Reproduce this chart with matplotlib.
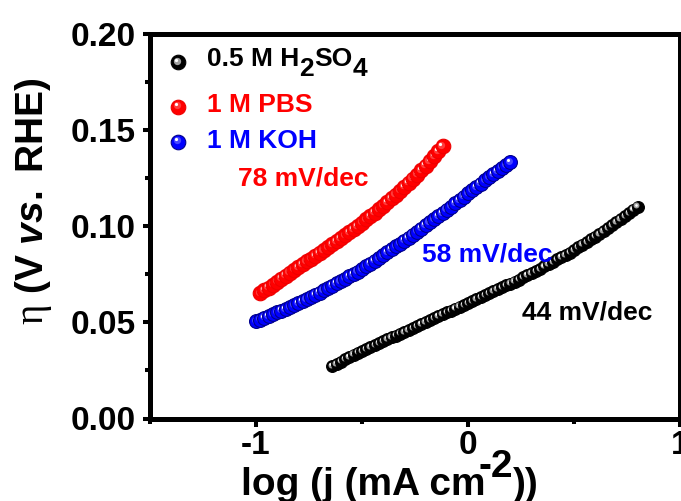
import matplotlib
matplotlib.use("Agg")
import matplotlib.pyplot as plt
from matplotlib.transforms import ScaledTranslation
from matplotlib.ticker import MultipleLocator, FormatStrFormatter

plt.rcParams['font.family'] = ['Liberation Sans', 'DejaVu Sans']
plt.rcParams['font.weight'] = 'bold'
plt.rcParams['axes.unicode_minus'] = False
plt.rcParams['mathtext.fontset'] = 'custom'
plt.rcParams['mathtext.rm'] = 'Liberation Sans:bold'
plt.rcParams['mathtext.it'] = 'Liberation Sans:italic:bold'
plt.rcParams['mathtext.bf'] = 'Liberation Sans:bold'
plt.rcParams['mathtext.sf'] = 'Liberation Serif:normal'

# ---- Tafel data: log(j) vs overpotential ----
h2so4_logj = [-0.64, -0.62, -0.60, -0.58, -0.56, -0.54, -0.52, -0.50, -0.48, -0.46,
              -0.44, -0.42, -0.40, -0.38, -0.36, -0.34, -0.32, -0.30, -0.28, -0.26,
              -0.24, -0.22, -0.20, -0.18, -0.16, -0.14, -0.12, -0.10, -0.08, -0.06,
              -0.04, -0.02, 0.00, 0.02, 0.04, 0.06, 0.08, 0.10, 0.12, 0.14,
              0.16, 0.18, 0.20, 0.22, 0.24, 0.26, 0.28, 0.30, 0.32, 0.34,
              0.36, 0.38, 0.40, 0.42, 0.44, 0.46, 0.48, 0.50, 0.52, 0.54,
              0.56, 0.58, 0.60, 0.62, 0.64, 0.66, 0.68, 0.70, 0.72, 0.74,
              0.76, 0.78, 0.80]
h2so4_eta = [0.0272, 0.0284, 0.0296, 0.0308, 0.0320, 0.0332, 0.0342, 0.0352, 0.0362, 0.0372,
             0.0382, 0.0392, 0.0402, 0.0411, 0.0421, 0.0431, 0.0441, 0.0451, 0.0461, 0.0471,
             0.0481, 0.0491, 0.0501, 0.0511, 0.0521, 0.0531, 0.0541, 0.0551, 0.0561, 0.0571,
             0.0581, 0.0591, 0.0601, 0.0611, 0.0621, 0.0631, 0.0641, 0.0651, 0.0661, 0.0671,
             0.0681, 0.0691, 0.0701, 0.0711, 0.0722, 0.0733, 0.0744, 0.0755, 0.0766, 0.0778,
             0.0790, 0.0802, 0.0814, 0.0826, 0.0838, 0.0850, 0.0862, 0.0875, 0.0889, 0.0903,
             0.0917, 0.0931, 0.0945, 0.0960, 0.0975, 0.0990, 0.1005, 0.1021, 0.1037, 0.1053,
             0.1069, 0.1085, 0.1101]

pbs_logj = [-0.98, -0.96, -0.94, -0.92, -0.90, -0.88, -0.86, -0.84, -0.82, -0.80,
            -0.78, -0.76, -0.74, -0.72, -0.70, -0.68, -0.66, -0.64, -0.62, -0.60,
            -0.58, -0.56, -0.54, -0.52, -0.50, -0.48, -0.46, -0.44, -0.42, -0.40,
            -0.38, -0.36, -0.34, -0.32, -0.30, -0.28, -0.26, -0.24, -0.22, -0.20,
            -0.18, -0.16, -0.14, -0.12]
pbs_eta = [0.0650, 0.0665, 0.0680, 0.0695, 0.0710, 0.0726, 0.0742, 0.0757, 0.0772, 0.0787,
           0.0801, 0.0816, 0.0830, 0.0845, 0.0860, 0.0875, 0.0890, 0.0905, 0.0920, 0.0936,
           0.0952, 0.0968, 0.0984, 0.1000, 0.1017, 0.1034, 0.1051, 0.1069, 0.1087, 0.1105,
           0.1124, 0.1143, 0.1163, 0.1183, 0.1203, 0.1224, 0.1245, 0.1267, 0.1290, 0.1313,
           0.1337, 0.1362, 0.1388, 0.1414]

koh_logj = [-1.00, -0.98, -0.96, -0.94, -0.92, -0.90, -0.88, -0.86, -0.84, -0.82,
            -0.80, -0.78, -0.76, -0.74, -0.72, -0.70, -0.68, -0.66, -0.64, -0.62,
            -0.60, -0.58, -0.56, -0.54, -0.52, -0.50, -0.48, -0.46, -0.44, -0.42,
            -0.40, -0.38, -0.36, -0.34, -0.32, -0.30, -0.28, -0.26, -0.24, -0.22,
            -0.20, -0.18, -0.16, -0.14, -0.12, -0.10, -0.08, -0.06, -0.04, -0.02,
            0.00, 0.02, 0.04, 0.06, 0.08, 0.10, 0.12, 0.14, 0.16, 0.18, 0.20]
koh_eta = [0.0505, 0.0514, 0.0523, 0.0532, 0.0541, 0.0551, 0.0560, 0.0569, 0.0578, 0.0588,
           0.0599, 0.0610, 0.0621, 0.0632, 0.0643, 0.0654, 0.0666, 0.0678, 0.0690, 0.0702,
           0.0714, 0.0726, 0.0738, 0.0750, 0.0763, 0.0777, 0.0791, 0.0805, 0.0819, 0.0834,
           0.0849, 0.0864, 0.0879, 0.0894, 0.0909, 0.0924, 0.0939, 0.0955, 0.0971, 0.0987,
           0.1003, 0.1019, 0.1035, 0.1051, 0.1067, 0.1084, 0.1101, 0.1118, 0.1135, 0.1152,
           0.1169, 0.1186, 0.1203, 0.1220, 0.1237, 0.1254, 0.1270, 0.1286, 0.1302, 0.1317,
           0.1332]

legend_labels = ['0.5 M H', '1 M PBS', '1 M KOH']
slope_labels = ['44 mV/dec', '78 mV/dec', '58 mV/dec']
x_ticks = [-1, 0, 1]
y_ticks = [0.00, 0.05, 0.10, 0.15, 0.20]

W, H = 681, 501
fig = plt.figure(figsize=(W / 100, H / 100), dpi=100)
ax = fig.add_axes([150 / W, 1 - 418.5 / H, 530 / W, 385 / H])
ax.set_xlim(-1.5, 1.0)
ax.set_ylim(0.0, 0.20)

for s in ax.spines.values():
    s.set_linewidth(3.6)
ax.set_xticks(x_ticks)
ax.set_yticks(y_ticks)
ax.xaxis.set_minor_locator(MultipleLocator(0.5))
ax.yaxis.set_minor_locator(MultipleLocator(0.025))
ax.xaxis.set_major_formatter(FormatStrFormatter('%d'))
ax.yaxis.set_major_formatter(FormatStrFormatter('%.2f'))
ax.tick_params(which='both', direction='out', top=False, right=False, width=2.9)
ax.tick_params(which='major', length=5.4, labelsize=24)
ax.tick_params(which='minor', length=3.5)
ax.tick_params(axis='y', which='major', pad=5.0)
ax.tick_params(axis='x', which='major', pad=3.0)


def spheres(xs, ys, face, edge, mid, ms, z0, trans=None):
    """Shaded ball markers drawn one by one so later balls overlap earlier ones."""
    base = trans if trans is not None else ax.transData
    d1 = 0.10 * ms / 72
    d2 = 0.16 * ms / 72
    t1 = base + ScaledTranslation(-d1, d1, fig.dpi_scale_trans)
    t2 = base + ScaledTranslation(-d2, d2, fig.dpi_scale_trans)
    for i, (x, y) in enumerate(zip(xs, ys)):
        z = z0 + i * 0.01
        ax.plot([x], [y], 'o', ms=ms, mfc=face, mec=edge, mew=0.8,
                transform=base, zorder=z, clip_on=False)
        ax.plot([x], [y], 'o', ms=ms * 0.5, mfc=mid, mec='none',
                transform=t1, zorder=z + 0.003, clip_on=False)
        ax.plot([x], [y], 'o', ms=ms * 0.22, mfc='white', mec='none',
                transform=t2, zorder=z + 0.006, clip_on=False)


BLACK = ('#000000', '#000000', '#a0a0a0')
RED = ('#ff0000', '#ee0000', '#ff3c3c')
BLUE = ('#0000ff', '#00008c', '#4646ff')

spheres(h2so4_logj, h2so4_eta, *BLACK, ms=8.5, z0=10)
spheres(pbs_logj, pbs_eta, *RED, ms=10.5, z0=20)
spheres(koh_logj, koh_eta, *BLUE, ms=10.0, z0=30)

# legend balls (axes fraction)
spheres([0.0528], [0.926], *BLACK, ms=10.5, z0=40, trans=ax.transAxes)
spheres([0.0528], [0.810], *RED, ms=10.5, z0=40, trans=ax.transAxes)
spheres([0.0528], [0.719], *BLUE, ms=10.5, z0=40, trans=ax.transAxes)

renderer = fig.canvas.get_renderer()


def text_run(pieces, x_px, size, color='black'):
    """Place consecutive text pieces left to right, each on its own baseline (image px)."""
    for s, base_px, dx in pieces:
        t = fig.text(x_px / W, 1 - base_px / H, s, fontsize=size, fontweight='bold',
                     color=color, ha='left', va='baseline', zorder=60)
        bb = t.get_window_extent(renderer)
        x_px = bb.x1 + dx


LEG = 19
text_run([(legend_labels[0], 66, 0), ('2', 76.5, 0), ('SO', 66, 0), ('4', 76.5, 0)], 207, LEG)
text_run([(legend_labels[1], 112.5, 0)], 207, LEG, color='#ff0000')
text_run([(legend_labels[2], 147.5, 0)], 207, LEG, color='#0000ff')

# slope annotations
text_run([(slope_labels[1], 186, 0)], 238, LEG, color='#ff0000')
text_run([(slope_labels[2], 261, 0)], 422, LEG, color='#0000ff')
text_run([(slope_labels[0], 320, 0)], 522, LEG, color='black')

# axis titles
text_run([('log (j (mA cm', 495, -7), ('-2', 477, 0), ('))', 495, 0)], 241, 28)
fig.text(43 / W, 1 - 201.5 / H, r'$\mathsf{\eta}$ (V $\mathit{vs.}$ RHE)', rotation=90,
         rotation_mode='anchor', ha='center', va='baseline', fontsize=28,
         fontweight='bold')

fig.savefig('out.png', dpi=100)
